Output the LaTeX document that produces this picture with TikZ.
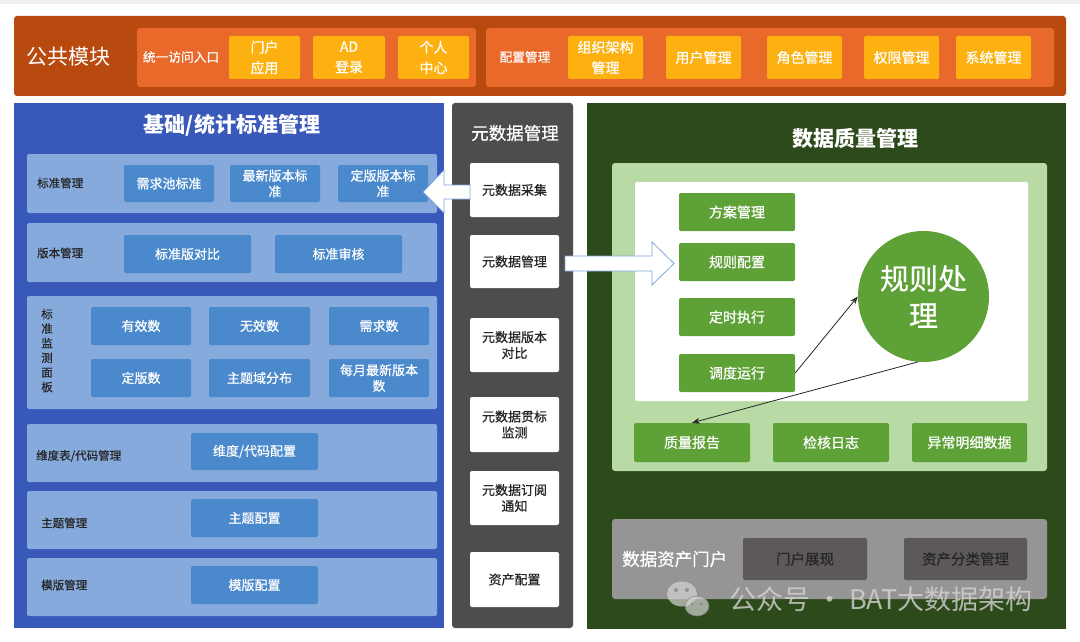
\documentclass[tikz,border=0pt]{standalone}
\usepackage{fontspec}
\setmainfont{Noto Sans CJK SC}
\newfontfamily\medfont{Noto Sans CJK SC}[FakeBold=0.6]
\usetikzlibrary{arrows.meta}
\definecolor{cStrip}{HTML}{EFEFEF}
\definecolor{cBan}{HTML}{B84A10}
\definecolor{cOra}{HTML}{E8692A}
\definecolor{cYel}{HTML}{FCB110}
\definecolor{cBlue}{HTML}{3858BA}
\definecolor{cRow}{HTML}{86AADB}
\definecolor{cBBox}{HTML}{4A89CC}
\definecolor{cMid}{HTML}{4D4D4D}
\definecolor{cGrn}{HTML}{2D4A1A}
\definecolor{cLGrn}{HTML}{B8DBA5}
\definecolor{cGBox}{HTML}{5EA136}
\definecolor{cGray}{HTML}{959595}
\definecolor{cDGray}{HTML}{5E5959}
\definecolor{cArr}{HTML}{7EA6E0}
\definecolor{cTxt}{HTML}{262626}
\definecolor{cWm}{HTML}{D4D4D4}
\newcommand\mkbox[7]{\node[#2,minimum width={(#5-#3)*1pt},minimum height={(#6-#4)*1pt}] (#1) at ({(#3+#5)/2},{(#4+#6)/2}) {#7};}
\begin{document}
\begin{tikzpicture}[x=1pt,y=-1pt,
  base/.style={inner sep=0pt, align=center, rounded corners=2pt},
  panel/.style={base, rounded corners=3pt},
  ylw/.style={base, fill=cYel, text=white, font=\medfont\fontsize{14}{20.5}\selectfont},
  row/.style={base, fill=cRow},
  bbox/.style={base, fill=cBBox, text=white, font=\medfont\fontsize{13}{15.7}\selectfont},
  rowlbl/.style={inner sep=0pt, anchor=west, text=cTxt, font=\medfont\fontsize{11.5}{14}\selectfont},
  wbox/.style={base, fill=white, text=cTxt, font=\medfont\fontsize{13}{16}\selectfont},
  gbox/.style={base, fill=cGBox, text=white, font=\medfont\fontsize{14}{17}\selectfont},
  dbox/.style={base, fill=cDGray, text=cTxt, font=\medfont\fontsize{14.5}{17}\selectfont},
  ttl/.style={inner sep=0pt, text=white, font=\fontsize{21}{24}\selectfont\bfseries},
  conn/.style={draw=cTxt, line width=0.8pt, -{Stealth[length=8pt,width=6pt]}},
  hollow/.style={draw=cArr, fill=white, line width=0.8pt}
]
\useasboundingbox (0,0) rectangle (1080,642);
\fill[white] (0,0) rectangle (1080,642);
\fill[cStrip] (0,0) rectangle (1080,4);

% ---------- top banner ----------
\mkbox{pub}{panel,fill=cBan}{14}{16}{1066}{96}{}
\node[inner sep=0pt, text=white, font=\fontsize{21}{24}\selectfont] (pubt) at (69,57) {公共模块};
\mkbox{acc}{panel,fill=cOra}{137}{28}{476}{87}{}
\mkbox{cfg}{panel,fill=cOra}{486}{28}{1054}{87}{}
\node[inner sep=0pt, text=white, font=\medfont\fontsize{12.7}{15}\selectfont] (acct) at (181,57) {统一访问入口};
\node[inner sep=0pt, text=white, font=\medfont\fontsize{12.7}{15}\selectfont] (cfgt) at (525,57) {配置管理};
\mkbox{y1}{ylw}{229}{36}{300}{79}{门户\\应用}
\mkbox{y2}{ylw}{313}{36}{385}{79}{AD\\登录}
\mkbox{y3}{ylw}{398}{36}{469}{79}{个人\\中心}
\mkbox{y4}{ylw}{568}{36}{643}{79}{组织架构\\管理}
\mkbox{y5}{ylw}{666}{36}{741}{79}{用户管理}
\mkbox{y6}{ylw}{767}{36}{842}{79}{角色管理}
\mkbox{y7}{ylw}{864}{36}{939}{79}{权限管理}
\mkbox{y8}{ylw}{956}{36}{1031}{79}{系统管理}

% ---------- left blue panel ----------
\mkbox{lp}{base,rounded corners=0pt,fill=cBlue}{14}{103}{444}{628}{}
\node[ttl] (lpt) at (232,125) {基础/统计标准管理};
\mkbox{r1}{row}{27}{154}{437}{213}{}
\mkbox{r2}{row}{27}{223}{437}{282}{}
\mkbox{r3}{row}{27}{296}{437}{409}{}
\mkbox{r4}{row}{27}{424}{437}{482}{}
\mkbox{r5}{row}{27}{491}{437}{549}{}
\mkbox{r6}{row}{27}{558}{437}{616}{}
\node[rowlbl] (r1l) at (37,183) {标准管理};
\node[rowlbl] (r2l) at (37,253) {版本管理};
\node[inner sep=0pt, align=center, text=cTxt, font=\medfont\fontsize{11.5}{14.6}\selectfont] (r3l) at (47,350.5) {标\\准\\监\\测\\面\\板};
\node[rowlbl] (r4l) at (36,456) {维度表/代码管理};
\node[rowlbl] (r5l) at (41,523) {主题管理};
\node[rowlbl] (r6l) at (41,585) {模版管理};
\mkbox{b11}{bbox}{124}{165}{214}{202}{需求池标准}
\mkbox{b12}{bbox}{230}{165}{320}{202}{最新版本标\\准}
\mkbox{b13}{bbox}{338}{165}{428}{202}{定版版本标\\准}
\mkbox{b21}{bbox}{124}{235}{251}{273}{标准版对比}
\mkbox{b22}{bbox}{275}{235}{402}{273}{标准审核}
\mkbox{b31}{bbox}{91}{307}{191}{345}{有效数}
\mkbox{b32}{bbox}{209}{307}{310}{345}{无效数}
\mkbox{b33}{bbox}{329}{307}{429}{345}{需求数}
\mkbox{b34}{bbox}{91}{359}{191}{397}{定版数}
\mkbox{b35}{bbox}{209}{359}{310}{397}{主题域分布}
\mkbox{b36}{bbox}{329}{359}{429}{397}{每月最新版本\\数}
\mkbox{b41}{bbox}{191}{433}{318}{470}{维度/代码配置}
\mkbox{b51}{bbox}{191}{499}{318}{537}{主题配置}
\mkbox{b61}{bbox}{191}{566}{318}{604}{模版配置}

% ---------- middle panel ----------
\mkbox{mp}{panel,fill=cMid}{452}{103}{573}{628}{}
\node[inner sep=0pt, text=white, font=\medfont\fontsize{17.5}{20}\selectfont] (mpt) at (515,133) {元数据管理};
\mkbox{m1}{wbox}{470}{163}{559}{217}{元数据采集}
\mkbox{m2}{wbox}{470}{235}{559}{288}{元数据管理}
\mkbox{m3}{wbox}{470}{318}{559}{372}{元数据版本\\对比}
\mkbox{m4}{wbox}{470}{397}{559}{452}{元数据贯标\\监测}
\mkbox{m5}{wbox}{470}{471}{559}{525}{元数据订阅\\通知}
\mkbox{m6}{wbox}{470}{552}{559}{607}{资产配置}

% ---------- right green panel ----------
\mkbox{rp}{base,rounded corners=0pt,fill=cGrn}{587}{103}{1066}{629}{}
\node[ttl] (rpt) at (855,138) {数据质量管理};
\mkbox{lg}{panel,fill=cLGrn}{612}{163}{1047}{471}{}
\mkbox{wh}{base,fill=white}{635}{182}{1028}{401}{}
\mkbox{g1}{gbox}{679}{193}{795}{231}{方案管理}
\mkbox{g2}{gbox}{679}{243}{795}{281}{规则配置}
\mkbox{g3}{gbox}{679}{298}{795}{336}{定时执行}
\mkbox{g4}{gbox}{679}{354}{795}{392}{调度运行}
\node[circle, fill=cGBox, minimum size=131pt, inner sep=0pt, align=center, text=white, font=\medfont\fontsize{29}{37}\selectfont] (circ) at (923.5,296.5) {规则处\\理};
\mkbox{q1}{gbox}{634}{423}{750}{462}{质量报告}
\mkbox{q2}{gbox}{773}{423}{889}{462}{检核日志}
\mkbox{q3}{gbox}{912}{423}{1027}{462}{异常明细数据}
\draw[conn] (g4.east) -- (circ.west);
\draw[conn] (circ.265) -- (q1.north);

\mkbox{gp}{panel,fill=cGray}{612}{519}{1047}{599}{}
\node[inner sep=0pt, anchor=west, text=white, font=\medfont\fontsize{17.5}{20}\selectfont] (gpt) at (622,559) {数据资产门户};
\mkbox{p1}{dbox}{743}{538}{867}{580}{门户展现}
\mkbox{p2}{dbox}{904}{538}{1027}{580}{资产分类管理}

% ---------- hollow arrows ----------
\draw[hollow] (470,185) -- (444,185) -- (444,170) -- (423,192) -- (444,213) -- (444,199) -- (470,199) -- cycle;
\draw[hollow] (565,256) -- (652,256) -- (652,242) -- (674,263.5) -- (652,285) -- (652,271) -- (565,271) -- cycle;

% ---------- watermark ----------
\begin{scope}[opacity=0.7]
\fill[cWm] (682,594) ellipse [x radius=15, y radius=12.5];
\fill[cWm] (697,606) ellipse [x radius=12, y radius=10];
\draw[gray, line width=0.8pt] (697,606) ellipse [x radius=12, y radius=10];
\fill[gray] (676,590) circle [radius=2];
\fill[gray] (687,590) circle [radius=2];
\fill[gray] (692,604) circle [radius=1.6];
\fill[gray] (701,604) circle [radius=1.6];
\end{scope}
\node[inner sep=0pt, text=cWm, text opacity=0.8, font=\fontsize{27}{30}\selectfont] (wm) at (881,599) {公众号 · BAT大数据架构};
\end{tikzpicture}
\end{document}
